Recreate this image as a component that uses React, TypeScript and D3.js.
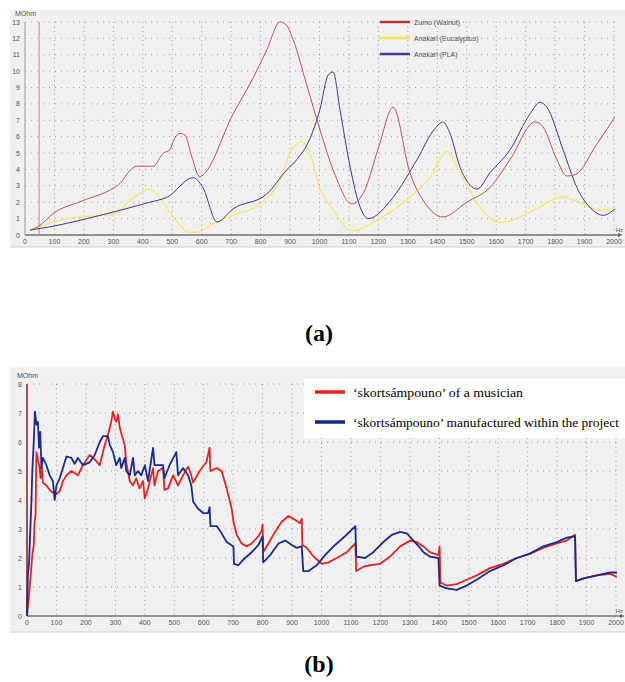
import * as d3 from "d3";

// ---- chart (a): frequency (Hz) vs MOhm ----
const zumoWalnut: [number, number][] = [
  [17, 0.3], [48, 0.55], [95, 1.3], [197, 2.1], [299, 2.85], [323, 3.15],
  [357, 3.95], [380, 4.2], [435, 4.2], [470, 5.0], [492, 5.2], [503, 5.7],
  [526, 6.2], [543, 6.1], [566, 4.8], [594, 3.55], [600, 3.6], [707, 7.4],
  [775, 9.6], [821, 11.3], [866, 13.0], [888, 12.8], [911, 11.9], [956, 9.2],
  [1002, 6.4], [1050, 3.8], [1110, 1.9], [1150, 2.6], [1200, 5.3], [1250, 7.8],
  [1307, 3.8], [1360, 1.9], [1419, 1.1], [1500, 2.0], [1579, 2.9], [1647, 4.6],
  [1732, 6.9], [1759, 6.6], [1806, 4.6], [1840, 3.6], [1870, 3.7], [1940, 5.5],
  [2003, 7.2],
];
const anakariEucalyptus: [number, number][] = [
  [17, 0.3], [142, 1.0], [306, 1.3], [357, 2.1], [424, 2.8], [458, 2.3],
  [503, 1.1], [560, 0.15], [590, 0.2], [640, 0.7], [707, 1.2], [798, 1.9],
  [866, 3.35], [900, 5.0], [940, 5.7], [968, 5.0], [1002, 2.8], [1036, 1.8],
  [1114, 0.25], [1195, 0.9], [1307, 2.3], [1375, 3.5], [1433, 5.1], [1477, 3.8],
  [1535, 1.95], [1613, 0.75], [1704, 1.3], [1827, 2.3], [1919, 1.7], [1953, 1.5],
  [2003, 1.7],
];
const anakariPla: [number, number][] = [
  [17, 0.3], [85, 0.5], [255, 1.2], [424, 2.0], [482, 2.3], [571, 3.5],
  [604, 2.9], [652, 0.8], [707, 1.6], [821, 2.5], [890, 4.0], [923, 4.6],
  [968, 5.9], [1002, 7.7], [1029, 9.75], [1046, 9.95], [1070, 7.6], [1104, 4.15],
  [1138, 1.7], [1165, 1.0], [1250, 2.3], [1331, 4.6], [1392, 6.5], [1419, 6.9],
  [1443, 6.2], [1477, 4.15], [1511, 3.05], [1535, 2.8], [1579, 3.8], [1647, 5.2],
  [1715, 7.4], [1749, 8.1], [1772, 7.8], [1827, 5.2], [1874, 2.9], [1929, 1.5],
  [1963, 1.2], [2003, 1.6],
];
const cursorA = 48;

// ---- chart (b) ----
const musician: [number, number][] = [
  [0, 0], [7, 0.7], [11, 1.2], [18, 2.1], [23, 2.45], [26, 3.25], [29, 3.5],
  [32, 5.65], [37, 5.4], [43, 5.1], [46, 4.75], [50, 5.2], [54, 4.6], [66, 4.5],
  [77, 4.35], [88, 4.25], [100, 4.2], [111, 4.3], [122, 4.65], [134, 4.85],
  [151, 5.0], [173, 4.85], [190, 5.2], [213, 5.55], [230, 5.4], [247, 5.2],
  [264, 5.9], [275, 6.25], [286, 6.7], [292, 7.05], [298, 6.8], [303, 6.7],
  [309, 6.95], [315, 6.5], [320, 6.3], [332, 5.9], [337, 5.3], [349, 4.65],
  [360, 4.5], [371, 4.75], [382, 4.4], [394, 4.65], [400, 4.05], [411, 4.4],
  [422, 4.85], [428, 5.1], [433, 4.5], [445, 5.0], [462, 5.1], [467, 4.35],
  [479, 4.4], [496, 4.85], [513, 4.5], [530, 4.85], [547, 5.15], [558, 4.85],
  [564, 4.6], [586, 5.0], [609, 5.3], [620, 5.8], [623, 5.0], [644, 5.1],
  [661, 5.0], [678, 4.4], [695, 3.7], [701, 3.25], [712, 2.8], [729, 2.5],
  [746, 2.4], [763, 2.5], [786, 2.75], [797, 2.95], [800, 3.15], [802, 2.2],
  [820, 2.5], [842, 2.9], [865, 3.25], [888, 3.45], [905, 3.35], [927, 3.2],
  [933, 3.35], [935, 2.45], [950, 2.35], [973, 2.05], [1001, 1.8], [1024, 1.85],
  [1052, 2.0], [1086, 2.2], [1115, 2.5], [1118, 1.55], [1143, 1.7], [1165, 1.75],
  [1199, 1.8], [1233, 2.05], [1267, 2.4], [1301, 2.6], [1324, 2.55], [1346, 2.4],
  [1368, 2.2], [1397, 2.1], [1401, 2.4], [1404, 1.15], [1425, 1.05], [1459, 1.1],
  [1493, 1.25], [1527, 1.4], [1572, 1.65], [1618, 1.8], [1663, 2.0], [1708, 2.15],
  [1753, 2.35], [1799, 2.5], [1833, 2.6], [1861, 2.8], [1864, 1.2], [1890, 1.3],
  [1935, 1.4], [1980, 1.45], [2003, 1.35],
];
const project: [number, number][] = [
  [0, 0], [3, 1.4], [7, 1.85], [11, 2.9], [15, 3.95], [18, 5.0], [23, 6.0],
  [27, 7.05], [32, 6.6], [37, 6.7], [41, 5.8], [45, 6.35], [49, 5.1], [54, 5.45],
  [66, 5.2], [77, 4.85], [88, 4.65], [94, 4.0], [100, 4.5], [111, 4.75],
  [122, 5.1], [134, 5.5], [151, 5.45], [162, 5.25], [173, 5.45], [190, 5.2],
  [213, 5.3], [230, 5.55], [247, 6.0], [258, 6.2], [275, 6.2], [281, 5.9],
  [292, 5.65], [303, 5.2], [315, 5.45], [320, 5.1], [332, 5.45], [337, 5.0],
  [349, 4.85], [360, 5.45], [366, 4.85], [377, 5.0], [388, 4.85], [400, 5.2],
  [411, 4.65], [428, 5.8], [433, 5.2], [456, 5.2], [462, 5.2], [467, 4.75],
  [484, 5.2], [507, 5.65], [513, 4.85], [530, 5.1], [547, 4.85], [558, 4.5],
  [564, 3.95], [581, 3.7], [598, 3.55], [615, 3.55], [620, 3.75], [623, 3.1],
  [644, 3.1], [661, 2.85], [678, 2.55], [701, 2.4], [703, 1.8], [718, 1.75],
  [735, 1.95], [763, 2.2], [786, 2.45], [800, 2.75], [802, 1.85], [826, 2.1],
  [854, 2.5], [877, 2.6], [899, 2.45], [916, 2.35], [933, 2.4], [938, 1.55],
  [956, 1.55], [984, 1.75], [1012, 2.1], [1046, 2.45], [1080, 2.75], [1115, 3.1],
  [1118, 2.05], [1148, 2.0], [1176, 2.2], [1210, 2.55], [1239, 2.8], [1267, 2.9],
  [1290, 2.85], [1312, 2.6], [1335, 2.35], [1346, 2.2], [1368, 2.05], [1397, 2.0],
  [1401, 1.05], [1425, 0.95], [1459, 0.9], [1493, 1.05], [1527, 1.25], [1572, 1.55],
  [1618, 1.75], [1663, 2.0], [1708, 2.15], [1753, 2.4], [1799, 2.55], [1833, 2.7],
  [1861, 2.75], [1864, 1.2], [1890, 1.3], [1935, 1.4], [1980, 1.5], [2003, 1.5],
];

const freqTicks = d3.range(0, 2001, 100);
const ticksA = d3.range(0, 14);
const ticksB = d3.range(0, 9);

const legendA = ["Zumo (Walnut)", "Anakari (Eucalyptus)", "Anakari (PLA)"];
const legendB = [
  "\u2018skortsámpouno\u2019 of a musician",
  "\u2018skortsámpouno\u2019 manufactured within the project",
];

type Series = { data: [number, number][]; color: string; width: number };

function Panel({
  top, bottom, x0, x1, y0, y1, yMax, yTicks, series, curve, cursor, cursorColor,
}: {
  top: number; bottom: number; x0: number; x1: number; y0: number; y1: number;
  yMax: number; yTicks: number[]; series: Series[]; curve: d3.CurveFactory;
  cursor: number; cursorColor: string;
}) {
  const x = d3.scaleLinear().domain([0, 2000]).range([x0, x1]);
  const y = d3.scaleLinear().domain([0, yMax]).range([y0, y1]);
  const line = d3
    .line<[number, number]>()
    .x((d) => x(d[0]))
    .y((d) => y(d[1]))
    .curve(curve);
  const font = "Liberation Sans, Arial, sans-serif";
  return (
    <g>
      <rect x={10} y={top} width={615} height={bottom - top} fill="#f0f0f0" />
      <line x1={10} x2={625} y1={bottom} y2={bottom} stroke="#cfcfcf" />
      {freqTicks.slice(1).map((t) => (
        <line key={"v" + t} x1={x(t)} x2={x(t)} y1={y(yMax)} y2={y0}
          stroke="#888" strokeWidth={0.8} strokeDasharray="1 3.5" />
      ))}
      {yTicks.slice(1).map((t) => (
        <line key={"h" + t} x1={x0} x2={x1} y1={y(t)} y2={y(t)}
          stroke="#888" strokeWidth={0.8} strokeDasharray="1 5" />
      ))}
      <line x1={x0} x2={x0} y1={y(yMax)} y2={y0} stroke="#999" />
      <line x1={x0} x2={x1 + 8} y1={y0} y2={y0} stroke="#333" />
      <line x1={x1 + 5} x2={x1 + 5} y1={y0 - 2} y2={y0 + 2} stroke="#333" />
      {yTicks.map((t) => (
        <text key={"yl" + t} x={x0 - 5} y={y(t) + 2.5} fontSize={7}
          textAnchor="end" fill="#555" fontFamily={font}>{t}</text>
      ))}
      <text x={x0 - 10} y={y(yMax) - 6} fontSize={7} fill="#555" fontFamily={font}>MOhm</text>
      {freqTicks.map((t) => (
        <text key={"xl" + t} x={x(t)} y={y0 + 9} fontSize={7}
          textAnchor="middle" fill="#555" fontFamily={font}>{t}</text>
      ))}
      <text x={623} y={y0 - 3} fontSize={6} textAnchor="end" fill="#555" fontFamily={font}>Hz</text>
      <line x1={x(cursor)} x2={x(cursor)} y1={y(yMax)} y2={y0}
        stroke={cursorColor} strokeWidth={cursor === 0 ? 2 : 1} />
      {series.map((s, i) => (
        <path key={i} d={line(s.data) ?? ""} fill="none" stroke={s.color}
          strokeWidth={s.width} strokeLinejoin="round" />
      ))}
    </g>
  );
}

export default function App() {
  const seriesA: Series[] = [
    { data: anakariEucalyptus, color: "#f3e66a", width: 1.2 },
    { data: anakariPla, color: "#3a3a95", width: 1 },
    { data: zumoWalnut, color: "#c05050", width: 1 },
  ];
  const seriesB: Series[] = [
    { data: musician, color: "#e02424", width: 1.8 },
    { data: project, color: "#1c2a8c", width: 1.8 },
  ];
  const colorsA = ["#b83838", "#f2e64a", "#3b3ba0"];
  const colorsB = ["#e82020", "#15257a"];
  return (
    <svg width={625} height={682} style={{ position: "absolute", left: 0, top: 0 }}>
      <rect width={625} height={682} fill="#fff" />
      <Panel top={10} bottom={247} x0={25} x1={614} y0={235} y1={22} yMax={13}
        yTicks={ticksA} series={seriesA} curve={d3.curveMonotoneX}
        cursor={cursorA} cursorColor="#ee7070" />
      {legendA.map((name, i) => (
        <g key={name}>
          <line x1={380} x2={410} y1={22 + i * 16} y2={22 + i * 16}
            stroke={colorsA[i]} strokeWidth={2.5} />
          <text x={414} y={24.5 + i * 16} fontSize={7} fill="#555"
            fontFamily="Liberation Sans, Arial, sans-serif">{name}</text>
        </g>
      ))}
      <text x={319} y={341} fontSize={24} fontWeight="bold" textAnchor="middle"
        fontFamily="Liberation Serif, Times New Roman, serif">(a)</text>

      <Panel top={367} bottom={632} x0={27} x1={616} y0={616} y1={384} yMax={8}
        yTicks={ticksB} series={seriesB} curve={d3.curveLinear}
        cursor={0} cursorColor="#a05050" />
      <rect x={304} y={379} width={321} height={59} fill="#fff" />
      {legendB.map((name, i) => (
        <g key={name}>
          <line x1={315} x2={345} y1={392 + i * 30} y2={392 + i * 30}
            stroke={colorsB[i]} strokeWidth={3.5} />
          <text x={353} y={397 + i * 30} fontSize={13.5}
            textLength={i === 0 ? 170 : 266} lengthAdjust="spacingAndGlyphs"
            fontFamily="Liberation Serif, Times New Roman, serif">{name}</text>
        </g>
      ))}
      <text x={319} y={672} fontSize={24} fontWeight="bold" textAnchor="middle"
        fontFamily="Liberation Serif, Times New Roman, serif">(b)</text>
    </svg>
  );
}
